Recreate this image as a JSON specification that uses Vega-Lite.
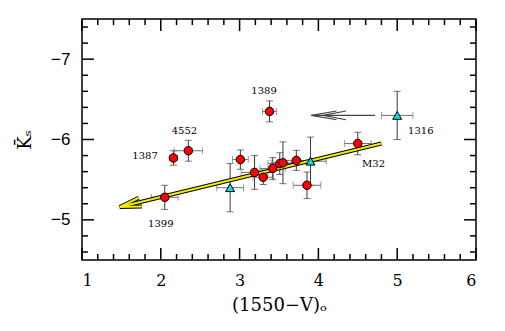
{
  "$schema": "https://vega.github.io/schema/vega-lite/v6.json",
  "width": 394,
  "height": 241,
  "autosize": "none",
  "padding": {"left": 82, "top": 19, "right": 29, "bottom": 71},
  "background": "white",
  "config": {"view": {"stroke": "black", "strokeWidth": 1.5}},
  "datasets": {
    "pts": [
      {"name": "1399", "kind": "circle", "x": 2.05, "y": -5.28, "xlo": 1.88, "xhi": 2.22, "ylo": -5.43, "yhi": -5.13},
      {"name": "1387", "kind": "circle", "x": 2.16, "y": -5.77, "xlo": 2.11, "xhi": 2.21, "ylo": -5.86, "yhi": -5.68},
      {"name": "4552", "kind": "circle", "x": 2.35, "y": -5.86, "xlo": 2.17, "xhi": 2.53, "ylo": -5.99, "yhi": -5.73},
      {"name": "a", "kind": "circle", "x": 3.01, "y": -5.75, "xlo": 2.91, "xhi": 3.11, "ylo": -5.87, "yhi": -5.63},
      {"name": "1389", "kind": "circle", "x": 3.38, "y": -6.35, "xlo": 3.29, "xhi": 3.47, "ylo": -6.48, "yhi": -6.22},
      {"name": "b", "kind": "circle", "x": 3.19, "y": -5.59, "xlo": 3.02, "xhi": 3.36, "ylo": -5.8, "yhi": -5.38},
      {"name": "c", "kind": "circle", "x": 3.3, "y": -5.53, "xlo": 3.17, "xhi": 3.43, "ylo": -5.62, "yhi": -5.44},
      {"name": "d", "kind": "circle", "x": 3.42, "y": -5.64, "xlo": 3.26, "xhi": 3.58, "ylo": -5.775, "yhi": -5.505},
      {"name": "e", "kind": "circle", "x": 3.51, "y": -5.7, "xlo": 3.36, "xhi": 3.66, "ylo": -5.835, "yhi": -5.565},
      {"name": "f", "kind": "circle", "x": 3.55, "y": -5.71, "xlo": 3.4, "xhi": 3.7, "ylo": -5.97, "yhi": -5.45},
      {"name": "g", "kind": "circle", "x": 3.72, "y": -5.74, "xlo": 3.55, "xhi": 3.89, "ylo": -5.865, "yhi": -5.615},
      {"name": "h", "kind": "circle", "x": 3.855, "y": -5.43, "xlo": 3.68, "xhi": 4.03, "ylo": -5.595, "yhi": -5.265},
      {"name": "M32", "kind": "circle", "x": 4.5, "y": -5.95, "xlo": 4.33, "xhi": 4.67, "ylo": -6.09, "yhi": -5.81},
      {"name": "t1", "kind": "triangle", "x": 2.88, "y": -5.4, "xlo": 2.71, "xhi": 3.05, "ylo": -5.7, "yhi": -5.1},
      {"name": "t2", "kind": "triangle", "x": 3.9, "y": -5.73, "xlo": 3.7, "xhi": 4.1, "ylo": -6.03, "yhi": -5.43},
      {"name": "1316", "kind": "triangle", "x": 5.0, "y": -6.3, "xlo": 4.8, "xhi": 5.2, "ylo": -6.6, "yhi": -6.0}
    ],
    "yellow": [
      {"seg": "main", "o": 1, "x": 1.48, "y": -5.16},
      {"seg": "main", "o": 2, "x": 4.8, "y": -5.95},
      {"seg": "head", "o": 1, "x": 1.72, "y": -5.275},
      {"seg": "head", "o": 2, "x": 1.48, "y": -5.16},
      {"seg": "head", "o": 3, "x": 1.76, "y": -5.165}
    ],
    "grayarrow": [
      {"seg": "shaft", "o": 1, "x": 4.72, "y": -6.3},
      {"seg": "shaft", "o": 2, "x": 3.91, "y": -6.3},
      {"seg": "c1", "o": 1, "x": 4.23, "y": -6.355},
      {"seg": "c1", "o": 2, "x": 3.91, "y": -6.3},
      {"seg": "c1", "o": 3, "x": 4.23, "y": -6.245},
      {"seg": "c2", "o": 1, "x": 4.35, "y": -6.355},
      {"seg": "c2", "o": 2, "x": 4.06, "y": -6.3},
      {"seg": "c2", "o": 3, "x": 4.35, "y": -6.245}
    ],
    "annot": [
      {"text": "1389", "x": 3.31, "y": -6.6},
      {"text": "4552", "x": 2.3, "y": -6.1},
      {"text": "1387", "x": 1.8, "y": -5.8},
      {"text": "1316", "x": 5.3, "y": -6.1},
      {"text": "M32", "x": 4.7, "y": -5.7},
      {"text": "1399", "x": 2.0, "y": -4.95}
    ],
    "xmaj": [{"v": 1}, {"v": 2}, {"v": 3}, {"v": 4}, {"v": 5}, {"v": 6}],
    "xmin": [{"v": 1.2}, {"v": 1.4}, {"v": 1.6}, {"v": 1.8}, {"v": 2.2}, {"v": 2.4}, {"v": 2.6}, {"v": 2.8}, {"v": 3.2}, {"v": 3.4}, {"v": 3.6}, {"v": 3.8}, {"v": 4.2}, {"v": 4.4}, {"v": 4.6}, {"v": 4.8}, {"v": 5.2}, {"v": 5.4}, {"v": 5.6}, {"v": 5.8}],
    "ymaj": [{"v": -7}, {"v": -6}, {"v": -5}],
    "ymin": [{"v": -7.4}, {"v": -7.2}, {"v": -6.8}, {"v": -6.6}, {"v": -6.4}, {"v": -6.2}, {"v": -5.8}, {"v": -5.6}, {"v": -5.4}, {"v": -5.2}, {"v": -4.8}, {"v": -4.6}]
  },
  "layer": [
    {
      "data": {"name": "pts"},
      "mark": {"type": "errorbar", "ticks": {"size": 7}, "color": "#3a3a3a"},
      "encoding": {
        "x": {"field": "x", "type": "quantitative", "scale": {"domain": [1, 6], "nice": false, "zero": false},
          "axis": {"orient": "bottom", "values": [1, 2, 3, 4, 5, 6], "ticks": false, "domain": false, "grid": false,
            "labelPadding": 12, "labelFont": "DejaVu Serif", "labelFontSize": 16, "labelColor": "black",
            "title": "(1550−V)ₒ", "titleFont": "DejaVu Serif", "titleFontSize": 18, "titleFontWeight": "normal", "titleColor": "black", "titlePadding": 8}},
        "y": {"field": "ylo", "type": "quantitative", "scale": {"domain": [-7.5, -4.5], "nice": false, "zero": false, "reverse": true},
          "axis": {"orient": "left", "values": [-7, -6, -5], "ticks": false, "domain": false, "grid": false,
            "labelPadding": 12, "labelFont": "Liberation Sans", "labelFontSize": 17, "labelColor": "black",
            "title": "K̄ₛ", "titleFont": "DejaVu Serif", "titleFontSize": 18, "titleFontWeight": "normal", "titleColor": "black", "titlePadding": 16}},
        "y2": {"field": "yhi"}
      }
    },
    {
      "data": {"name": "pts"},
      "mark": {"type": "rule", "color": "#707070", "strokeWidth": 1},
      "encoding": {
        "x": {"field": "xlo", "type": "quantitative", "scale": {"domain": [1, 6], "nice": false, "zero": false}, "axis": null},
        "x2": {"field": "xhi"},
        "y": {"field": "y", "type": "quantitative", "scale": {"domain": [-7.5, -4.5], "nice": false, "zero": false, "reverse": true}, "axis": null}
      }
    },
    {
      "data": {"name": "pts"},
      "mark": {"type": "tick", "orient": "vertical", "color": "#707070", "size": 7, "thickness": 1},
      "encoding": {
        "x": {"field": "xlo", "type": "quantitative", "scale": {"domain": [1, 6], "nice": false, "zero": false}, "axis": null},
        "y": {"field": "y", "type": "quantitative", "scale": {"domain": [-7.5, -4.5], "nice": false, "zero": false, "reverse": true}, "axis": null}
      }
    },
    {
      "data": {"name": "pts"},
      "mark": {"type": "tick", "orient": "vertical", "color": "#707070", "size": 7, "thickness": 1},
      "encoding": {
        "x": {"field": "xhi", "type": "quantitative", "scale": {"domain": [1, 6], "nice": false, "zero": false}, "axis": null},
        "y": {"field": "y", "type": "quantitative", "scale": {"domain": [-7.5, -4.5], "nice": false, "zero": false, "reverse": true}, "axis": null}
      }
    },
    {
      "data": {"name": "yellow"},
      "mark": {"type": "line", "color": "black", "strokeWidth": 4, "strokeJoin": "miter", "strokeCap": "butt"},
      "encoding": {
        "x": {"field": "x", "type": "quantitative", "scale": {"domain": [1, 6], "nice": false, "zero": false}, "axis": null},
        "y": {"field": "y", "type": "quantitative", "scale": {"domain": [-7.5, -4.5], "nice": false, "zero": false, "reverse": true}, "axis": null},
        "detail": {"field": "seg", "type": "nominal"},
        "order": {"field": "o", "type": "quantitative"}
      }
    },
    {
      "data": {"name": "yellow"},
      "mark": {"type": "line", "color": "#f2ee00", "strokeWidth": 2, "strokeJoin": "miter", "strokeCap": "butt"},
      "encoding": {
        "x": {"field": "x", "type": "quantitative", "scale": {"domain": [1, 6], "nice": false, "zero": false}, "axis": null},
        "y": {"field": "y", "type": "quantitative", "scale": {"domain": [-7.5, -4.5], "nice": false, "zero": false, "reverse": true}, "axis": null},
        "detail": {"field": "seg", "type": "nominal"},
        "order": {"field": "o", "type": "quantitative"}
      }
    },
    {
      "data": {"name": "grayarrow"},
      "mark": {"type": "line", "color": "#444444", "strokeWidth": 1.1},
      "encoding": {
        "x": {"field": "x", "type": "quantitative", "scale": {"domain": [1, 6], "nice": false, "zero": false}, "axis": null},
        "y": {"field": "y", "type": "quantitative", "scale": {"domain": [-7.5, -4.5], "nice": false, "zero": false, "reverse": true}, "axis": null},
        "detail": {"field": "seg", "type": "nominal"},
        "order": {"field": "o", "type": "quantitative"}
      }
    },
    {
      "data": {"name": "pts"},
      "transform": [{"filter": "datum.kind === 'circle'"}],
      "mark": {"type": "point", "shape": "circle", "filled": true, "fill": "#ff0000", "stroke": "black", "strokeWidth": 1, "size": 72, "opacity": 1},
      "encoding": {
        "x": {"field": "x", "type": "quantitative", "scale": {"domain": [1, 6], "nice": false, "zero": false}, "axis": null},
        "y": {"field": "y", "type": "quantitative", "scale": {"domain": [-7.5, -4.5], "nice": false, "zero": false, "reverse": true}, "axis": null}
      }
    },
    {
      "data": {"name": "pts"},
      "transform": [{"filter": "datum.kind === 'triangle'"}],
      "mark": {"type": "point", "shape": "triangle-up", "filled": true, "fill": "#00e0ea", "stroke": "black", "strokeWidth": 1, "size": 80, "opacity": 1},
      "encoding": {
        "x": {"field": "x", "type": "quantitative", "scale": {"domain": [1, 6], "nice": false, "zero": false}, "axis": null},
        "y": {"field": "y", "type": "quantitative", "scale": {"domain": [-7.5, -4.5], "nice": false, "zero": false, "reverse": true}, "axis": null}
      }
    },
    {
      "data": {"name": "annot"},
      "mark": {"type": "text", "font": "DejaVu Serif", "fontSize": 10, "color": "black", "align": "center", "baseline": "middle"},
      "encoding": {
        "x": {"field": "x", "type": "quantitative", "scale": {"domain": [1, 6], "nice": false, "zero": false}, "axis": null},
        "y": {"field": "y", "type": "quantitative", "scale": {"domain": [-7.5, -4.5], "nice": false, "zero": false, "reverse": true}, "axis": null},
        "text": {"field": "text", "type": "nominal"}
      }
    },
    {
      "data": {"name": "xmaj"},
      "mark": {"type": "rule", "color": "black", "strokeWidth": 1.5},
      "encoding": {
        "x": {"field": "v", "type": "quantitative", "scale": {"domain": [1, 6], "nice": false, "zero": false}, "axis": null},
        "y": {"datum": -4.5, "type": "quantitative", "scale": {"domain": [-7.5, -4.5], "nice": false, "zero": false, "reverse": true}, "axis": null},
        "y2": {"datum": -4.65}
      }
    },
    {
      "data": {"name": "xmaj"},
      "mark": {"type": "rule", "color": "black", "strokeWidth": 1.5},
      "encoding": {
        "x": {"field": "v", "type": "quantitative", "scale": {"domain": [1, 6], "nice": false, "zero": false}, "axis": null},
        "y": {"datum": -7.5, "type": "quantitative", "scale": {"domain": [-7.5, -4.5], "nice": false, "zero": false, "reverse": true}, "axis": null},
        "y2": {"datum": -7.35}
      }
    },
    {
      "data": {"name": "xmin"},
      "mark": {"type": "rule", "color": "black", "strokeWidth": 1.5},
      "encoding": {
        "x": {"field": "v", "type": "quantitative", "scale": {"domain": [1, 6], "nice": false, "zero": false}, "axis": null},
        "y": {"datum": -4.5, "type": "quantitative", "scale": {"domain": [-7.5, -4.5], "nice": false, "zero": false, "reverse": true}, "axis": null},
        "y2": {"datum": -4.575}
      }
    },
    {
      "data": {"name": "xmin"},
      "mark": {"type": "rule", "color": "black", "strokeWidth": 1.5},
      "encoding": {
        "x": {"field": "v", "type": "quantitative", "scale": {"domain": [1, 6], "nice": false, "zero": false}, "axis": null},
        "y": {"datum": -7.5, "type": "quantitative", "scale": {"domain": [-7.5, -4.5], "nice": false, "zero": false, "reverse": true}, "axis": null},
        "y2": {"datum": -7.425}
      }
    },
    {
      "data": {"name": "ymaj"},
      "mark": {"type": "rule", "color": "black", "strokeWidth": 1.5},
      "encoding": {
        "y": {"field": "v", "type": "quantitative", "scale": {"domain": [-7.5, -4.5], "nice": false, "zero": false, "reverse": true}, "axis": null},
        "x": {"datum": 1, "type": "quantitative", "scale": {"domain": [1, 6], "nice": false, "zero": false}, "axis": null},
        "x2": {"datum": 1.152}
      }
    },
    {
      "data": {"name": "ymaj"},
      "mark": {"type": "rule", "color": "black", "strokeWidth": 1.5},
      "encoding": {
        "y": {"field": "v", "type": "quantitative", "scale": {"domain": [-7.5, -4.5], "nice": false, "zero": false, "reverse": true}, "axis": null},
        "x": {"datum": 6, "type": "quantitative", "scale": {"domain": [1, 6], "nice": false, "zero": false}, "axis": null},
        "x2": {"datum": 5.848}
      }
    },
    {
      "data": {"name": "ymin"},
      "mark": {"type": "rule", "color": "black", "strokeWidth": 1.5},
      "encoding": {
        "y": {"field": "v", "type": "quantitative", "scale": {"domain": [-7.5, -4.5], "nice": false, "zero": false, "reverse": true}, "axis": null},
        "x": {"datum": 1, "type": "quantitative", "scale": {"domain": [1, 6], "nice": false, "zero": false}, "axis": null},
        "x2": {"datum": 1.076}
      }
    },
    {
      "data": {"name": "ymin"},
      "mark": {"type": "rule", "color": "black", "strokeWidth": 1.5},
      "encoding": {
        "y": {"field": "v", "type": "quantitative", "scale": {"domain": [-7.5, -4.5], "nice": false, "zero": false, "reverse": true}, "axis": null},
        "x": {"datum": 6, "type": "quantitative", "scale": {"domain": [1, 6], "nice": false, "zero": false}, "axis": null},
        "x2": {"datum": 5.924}
      }
    }
  ],
  "resolve": {"axis": {"x": "independent", "y": "independent"}}
}
